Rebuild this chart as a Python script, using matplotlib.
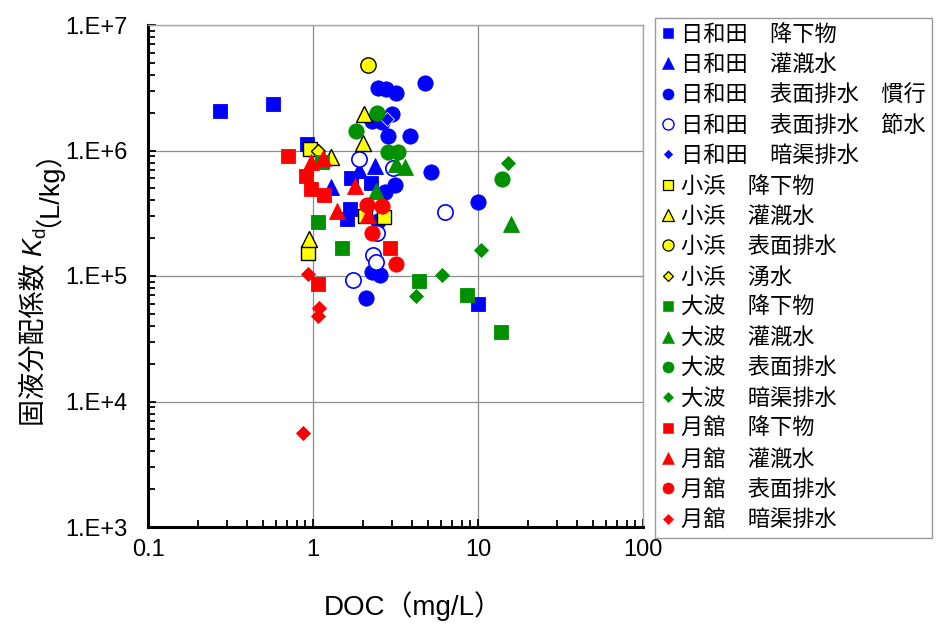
import math
import matplotlib
matplotlib.use("Agg")
import matplotlib.pyplot as plt
from matplotlib.lines import Line2D
from matplotlib.ticker import FuncFormatter, LogLocator, NullFormatter

plt.rcParams['font.family'] = ['Liberation Sans', 'Noto Sans CJK JP']

# ---- data (DOC mg/L, Kd L/kg) ----
hiw_dep_x = [0.272, 0.570, 0.92, 1.69, 2.25, 1.67, 1.61, 9.95]
hiw_dep_y = [2.08e6, 2.33e6, 1.12e6, 6.09e5, 5.46e5, 3.45e5, 2.82e5, 5.93e4]
hiw_irr_x = [1.89, 2.37, 1.29]
hiw_irr_y = [6.93e5, 7.46e5, 5.12e5]
hiw_sur_conv_x = [2.47, 2.76, 3.17, 4.80, 3.03, 2.85, 3.89, 5.22, 3.15, 2.72, 10.0, 2.27, 2.61, 2.47, 2.29, 2.54, 2.09]
hiw_sur_conv_y = [3.15e6, 3.10e6, 2.86e6, 3.45e6, 1.96e6, 1.30e6, 1.31e6, 6.72e5, 5.31e5, 4.67e5, 3.87e5, 1.73e6, 1.69e6, 2.72e5, 1.07e5, 1.01e5, 6.68e4]
hiw_sur_save_x = [1.90, 3.06, 6.28, 2.43, 2.31, 2.42, 1.74]
hiw_sur_save_y = [8.55e5, 7.19e5, 3.22e5, 2.22e5, 1.46e5, 1.29e5, 9.33e4]
hiw_drn_x = [2.79]
hiw_drn_y = [1.79e6]

koh_dep_x = [0.955, 2.06, 2.70, 0.933]
koh_dep_y = [1.02e6, 3.03e5, 2.95e5, 1.52e5]
koh_irr_x = [2.03, 2.01, 1.28, 0.946]
koh_irr_y = [1.94e6, 1.14e6, 8.88e5, 1.98e5]
koh_sur_x = [2.14]
koh_sur_y = [4.76e6]
koh_spr_x = [1.07]
koh_spr_y = [9.82e5]

ohn_dep_x = [1.07, 1.50, 4.41, 8.63, 13.7, 1.14]
ohn_dep_y = [2.67e5, 1.66e5, 9.09e4, 7.12e4, 3.57e4, 8.17e5]
ohn_irr_x = [3.17, 3.60, 2.40, 15.9]
ohn_irr_y = [7.81e5, 7.36e5, 4.80e5, 2.61e5]
ohn_sur_x = [2.45, 1.83, 2.84, 3.27, 13.9]
ohn_sur_y = [1.98e6, 1.42e6, 9.69e5, 9.69e5, 5.95e5]
ohn_drn_x = [15.2, 10.5, 6.08, 4.21]
ohn_drn_y = [7.92e5, 1.62e5, 1.01e5, 6.95e4]

tsu_dep_x = [0.706, 0.903, 0.968, 1.16, 2.92, 1.07]
tsu_dep_y = [9.12e5, 6.32e5, 4.89e5, 4.46e5, 1.66e5, 8.56e4]
tsu_irr_x = [0.975, 1.15, 1.79, 1.39, 2.15]
tsu_irr_y = [8.07e5, 8.71e5, 5.23e5, 3.27e5, 3.06e5]
tsu_sur_x = [2.13, 2.63, 2.28, 3.17]
tsu_sur_y = [3.71e5, 3.61e5, 2.21e5, 1.24e5]
tsu_drn_x = [0.933, 1.09, 1.07, 0.866]
tsu_drn_y = [1.03e5, 5.58e4, 4.76e4, 5.66e3]

labels = ['日和田　降下物', '日和田　灌漑水', '日和田　表面排水　慣行', '日和田　表面排水　節水',
          '日和田　暗渠排水', '小浜　降下物', '小浜　灌漑水', '小浜　表面排水', '小浜　湧水',
          '大波　降下物', '大波　灌漑水', '大波　表面排水', '大波　暗渠排水',
          '月舘　降下物', '月舘　灌漑水', '月舘　表面排水', '月舘　暗渠排水']

x_ticks = [0.1, 1, 10, 100]
y_ticks = [1e3, 1e4, 1e5, 1e6, 1e7]

# ---- styles ----
BLUE, YEL, GRN, RED = '#0000FF', '#FFFF00', '#009000', '#FF0000'
MS = {'s': 10, '^': 11, 'o': 11, 'D': 7.5}
LEG_MS = {'s': 7, '^': 8, 'o': 8, 'D': 5.5}

series = [
    (hiw_dep_x, hiw_dep_y, 's', BLUE, BLUE),
    (hiw_irr_x, hiw_irr_y, '^', BLUE, BLUE),
    (hiw_sur_conv_x, hiw_sur_conv_y, 'o', BLUE, BLUE),
    (hiw_sur_save_x, hiw_sur_save_y, 'o', 'white', BLUE),
    (hiw_drn_x, hiw_drn_y, 'D', BLUE, 'white'),
    (koh_dep_x, koh_dep_y, 's', YEL, 'black'),
    (koh_irr_x, koh_irr_y, '^', YEL, 'black'),
    (koh_sur_x, koh_sur_y, 'o', YEL, 'black'),
    (koh_spr_x, koh_spr_y, 'D', YEL, 'black'),
    (ohn_dep_x, ohn_dep_y, 's', GRN, GRN),
    (ohn_irr_x, ohn_irr_y, '^', GRN, GRN),
    (ohn_sur_x, ohn_sur_y, 'o', GRN, GRN),
    (ohn_drn_x, ohn_drn_y, 'D', GRN, GRN),
    (tsu_dep_x, tsu_dep_y, 's', RED, RED),
    (tsu_irr_x, tsu_irr_y, '^', RED, RED),
    (tsu_sur_x, tsu_sur_y, 'o', RED, RED),
    (tsu_drn_x, tsu_drn_y, 'D', RED, RED),
]

W, H = 938, 626
fig = plt.figure(figsize=(W/100, H/100), dpi=100)
ax = fig.add_axes([148/W, 1-527/H, (643-148)/W, (527-25)/H])

handles = []
for (xs, ys, m, fc, ec), lab in zip(series, labels):
    mew = 1.0 if ec == 'black' else (1.2 if fc == 'white' else 0.6)
    ax.plot(xs, ys, linestyle='none', marker=m, markersize=MS[m],
            markerfacecolor=fc, markeredgecolor=ec, markeredgewidth=mew)
    handles.append(Line2D([], [], linestyle='none', marker=m, markersize=LEG_MS[m],
                          markerfacecolor=fc, markeredgecolor=ec,
                          markeredgewidth=(0.9 if ec == 'black' else (1.0 if fc == 'white' else 0.4)),
                          label=lab))

ax.set_xscale('log')
ax.set_yscale('log')
ax.set_xlim(0.1, 100)
ax.set_ylim(1e3, 1e7)
ax.set_xticks(x_ticks)
ax.set_yticks(y_ticks)
ax.xaxis.set_major_formatter(FuncFormatter(lambda v, p: ('%g' % v)))
ax.yaxis.set_major_formatter(FuncFormatter(lambda v, p: '1.E+%d' % round(math.log10(v))))
ax.xaxis.set_minor_locator(LogLocator(base=10, subs=range(2, 10), numticks=20))
ax.yaxis.set_minor_locator(LogLocator(base=10, subs=range(2, 10), numticks=20))
ax.xaxis.set_minor_formatter(NullFormatter())
ax.yaxis.set_minor_formatter(NullFormatter())
ax.tick_params(which='both', direction='in', top=False, right=False, width=1.3, color='black')
ax.tick_params(which='major', length=6)
ax.tick_params(which='minor', length=5)
ax.tick_params(axis='y', which='major', labelsize=17, pad=15)
ax.tick_params(axis='x', which='major', labelsize=17, pad=9)
ax.grid(True, which='major', color='#8c8c8c', linewidth=0.9)
ax.set_axisbelow(True)
for s in ('left', 'bottom'):
    ax.spines[s].set_linewidth(2.2)
    ax.spines[s].set_color('black')
for s in ('top', 'right'):
    ax.spines[s].set_linewidth(1.0)
    ax.spines[s].set_color('#a6a6a6')

ax.set_xlabel('DOC（mg/L）', fontsize=20)
ax.xaxis.set_label_coords(0.535, -0.128)

# ---- y label built from pieces (CJK + italic K + subscript d) ----
fig.canvas.draw()
renderer = fig.canvas.get_renderer()
parts = [('固液分配係数 ', 19.5, 'normal', 0), ('K', 19.5, 'italic', 0),
         ('d', 13.5, 'normal', 4), ('（L/kg）', 19.5, 'normal', 0)]
widths = []
for s, fs, st, _ in parts:
    t = fig.text(0, 0, s, fontsize=fs, style=st)
    widths.append(t.get_window_extent(renderer).width)
    t.remove()
total = sum(widths)
base_x = 41.0
cy = H - 274.0
y0 = cy - total / 2
for (s, fs, st, dx), w in zip(parts, widths):
    fig.text((base_x + dx) / W, y0 / H, s, fontsize=fs, style=st, rotation=90,
             rotation_mode='anchor', ha='left', va='baseline')
    y0 += w

leg = fig.legend(handles=handles, loc='upper left', bbox_to_anchor=(655/W, 1-18/H),
                 frameon=True, fancybox=False, edgecolor='#808080', prop={'size': 16},
                 handlelength=0.6, handletextpad=0.25,
                 labelspacing=0.42, borderpad=0.3, borderaxespad=0)
leg.get_frame().set_linewidth(1.0)

fig.savefig('out.png', dpi=100)
